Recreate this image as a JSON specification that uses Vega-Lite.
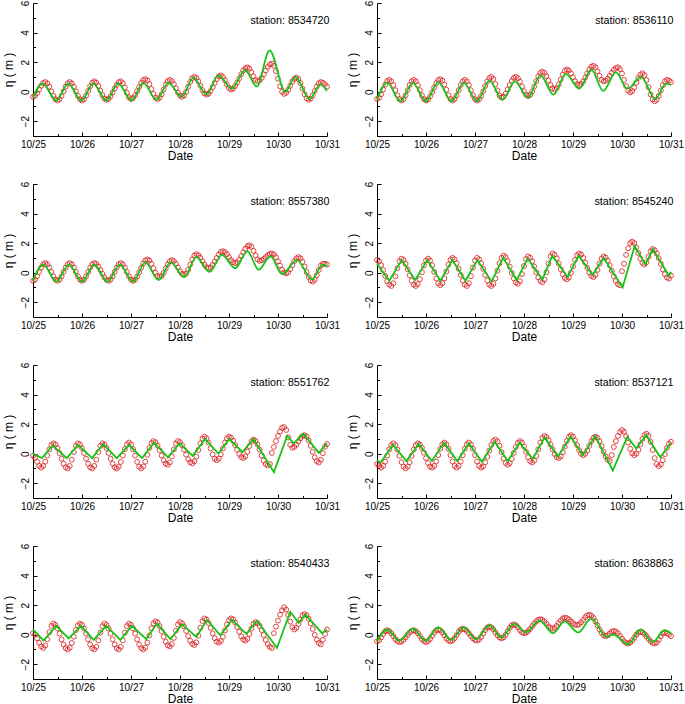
{
"$schema": "https://vega.github.io/schema/vega-lite/v6.json",
"background": "white",
"padding": {"left": 1, "top": 0, "right": 0, "bottom": 0},
"config": {
 "font": "Liberation Sans",
 "view": {"stroke": null},
 "axis": {"grid": false, "domainColor": "#000", "tickColor": "#000", "labelColor": "#000", "titleColor": "#000", "tickSize": -4, "labelFontSize": 10, "titleFontSize": 12, "titleFontWeight": "normal", "labelPadding": 7, "labelOverlap": false, "labelFlush": false, "domainWidth": 1, "tickWidth": 1},
 "axisY": {"labelAngle": -90, "titlePadding": 5},
 "axisX": {"titlePadding": 1},
 "point": {"shape": "circle", "filled": false, "color": "#dc2626", "size": 24, "strokeWidth": 1, "opacity": 0.85},
 "line": {"color": "#16c416", "strokeWidth": 1.8}
},
"datasets": {
"o8534720": [{"h":0,"v":-0.35},{"h":1,"v":-0.28},{"h":2,"v":-0.1},{"h":3,"v":0.15},{"h":4,"v":0.4},{"h":5,"v":0.58},{"h":6,"v":0.65},{"h":7,"v":0.56},{"h":8,"v":0.34},{"h":9,"v":0.02},{"h":10,"v":-0.29},{"h":11,"v":-0.51},{"h":12,"v":-0.6},{"h":13,"v":-0.51},{"h":14,"v":-0.29},{"h":15,"v":0.02},{"h":16,"v":0.34},{"h":17,"v":0.56},{"h":18,"v":0.65},{"h":19,"v":0.56},{"h":20,"v":0.34},{"h":21,"v":0.02},{"h":22,"v":-0.29},{"h":23,"v":-0.51},{"h":24,"v":-0.6},{"h":25,"v":-0.51},{"h":26,"v":-0.27},{"h":27,"v":0.05},{"h":28,"v":0.37},{"h":29,"v":0.61},{"h":30,"v":0.7},{"h":31,"v":0.61},{"h":32,"v":0.39},{"h":33,"v":0.07},{"h":34,"v":-0.24},{"h":35,"v":-0.46},{"h":36,"v":-0.55},{"h":37,"v":-0.49},{"h":38,"v":-0.31},{"h":39,"v":-0.06},{"h":40,"v":0.21},{"h":41,"v":0.46},{"h":42,"v":0.64},{"h":43,"v":0.7},{"h":44,"v":0.58},{"h":45,"v":0.28},{"h":46,"v":-0.08},{"h":47,"v":-0.38},{"h":48,"v":-0.5},{"h":49,"v":-0.43},{"h":50,"v":-0.24},{"h":51,"v":0.03},{"h":52,"v":0.32},{"h":53,"v":0.59},{"h":54,"v":0.78},{"h":55,"v":0.85},{"h":56,"v":0.76},{"h":57,"v":0.51},{"h":58,"v":0.18},{"h":59,"v":-0.16},{"h":60,"v":-0.41},{"h":61,"v":-0.5},{"h":62,"v":-0.41},{"h":63,"v":-0.18},{"h":64,"v":0.15},{"h":65,"v":0.48},{"h":66,"v":0.71},{"h":67,"v":0.8},{"h":68,"v":0.72},{"h":69,"v":0.51},{"h":70,"v":0.23},{"h":71,"v":-0.06},{"h":72,"v":-0.27},{"h":73,"v":-0.35},{"h":74,"v":-0.26},{"h":75,"v":-0.01},{"h":76,"v":0.33},{"h":77,"v":0.66},{"h":78,"v":0.91},{"h":79,"v":1.0},{"h":80,"v":0.92},{"h":81,"v":0.7},{"h":82,"v":0.4},{"h":83,"v":0.1},{"h":84,"v":-0.12},{"h":85,"v":-0.2},{"h":86,"v":-0.14},{"h":87,"v":0.05},{"h":88,"v":0.31},{"h":89,"v":0.59},{"h":90,"v":0.85},{"h":91,"v":1.04},{"h":92,"v":1.1},{"h":93,"v":1.0},{"h":94,"v":0.77},{"h":95,"v":0.48},{"h":96,"v":0.25},{"h":97,"v":0.15},{"h":98,"v":0.21},{"h":99,"v":0.38},{"h":100,"v":0.62},{"h":101,"v":0.9},{"h":102,"v":1.19},{"h":103,"v":1.43},{"h":104,"v":1.59},{"h":105,"v":1.65},{"h":106,"v":1.56},{"h":107,"v":1.32},{"h":108,"v":1.03},{"h":109,"v":0.8},{"h":110,"v":0.7},{"h":111,"v":0.76},{"h":112,"v":0.93},{"h":113,"v":1.17},{"h":114,"v":1.43},{"h":115,"v":1.67},{"h":116,"v":1.84},{"h":117,"v":1.9},{"h":118,"v":1.76},{"h":119,"v":1.39},{"h":120,"v":0.88},{"h":121,"v":0.36},{"h":122,"v":-0.01},{"h":123,"v":-0.15},{"h":124,"v":-0.07},{"h":125,"v":0.13},{"h":126,"v":0.4},{"h":127,"v":0.68},{"h":128,"v":0.87},{"h":129,"v":0.95},{"h":130,"v":0.85},{"h":131,"v":0.58},{"h":132,"v":0.2},{"h":133,"v":-0.18},{"h":134,"v":-0.45},{"h":135,"v":-0.55},{"h":136,"v":-0.47},{"h":137,"v":-0.25},{"h":138,"v":0.05},{"h":139,"v":0.35},{"h":140,"v":0.57},{"h":141,"v":0.65},{"h":142,"v":0.6},{"h":143,"v":0.5},{"h":144,"v":0.35}],
"m8534720": [{"h":0,"v":-0.4},{"h":4.6,"v":0.55},{"h":11.5,"v":-0.6},{"h":17.2,"v":0.55},{"h":23.7,"v":-0.6},{"h":29.5,"v":0.55},{"h":36,"v":-0.6},{"h":41.7,"v":0.55},{"h":48.3,"v":-0.6},{"h":54,"v":0.6},{"h":60.5,"v":-0.55},{"h":66.3,"v":0.6},{"h":72.8,"v":-0.35},{"h":78.6,"v":0.95},{"h":85,"v":-0.2},{"h":90.8,"v":1.1},{"h":97.4,"v":0.2},{"h":103.9,"v":1.45},{"h":109.6,"v":0.35},{"h":115.9,"v":2.8},{"h":123.6,"v":0.0},{"h":128.5,"v":1.0},{"h":135.5,"v":-0.5},{"h":140.7,"v":0.5},{"h":144,"v":0.05}],
"o8536110": [{"h":0,"v":-0.5},{"h":1,"v":-0.41},{"h":2,"v":-0.18},{"h":3,"v":0.15},{"h":4,"v":0.48},{"h":5,"v":0.71},{"h":6,"v":0.8},{"h":7,"v":0.7},{"h":8,"v":0.45},{"h":9,"v":0.1},{"h":10,"v":-0.25},{"h":11,"v":-0.5},{"h":12,"v":-0.6},{"h":13,"v":-0.5},{"h":14,"v":-0.25},{"h":15,"v":0.1},{"h":16,"v":0.45},{"h":17,"v":0.7},{"h":18,"v":0.8},{"h":19,"v":0.7},{"h":20,"v":0.45},{"h":21,"v":0.1},{"h":22,"v":-0.25},{"h":23,"v":-0.5},{"h":24,"v":-0.6},{"h":25,"v":-0.53},{"h":26,"v":-0.32},{"h":27,"v":-0.03},{"h":28,"v":0.28},{"h":29,"v":0.57},{"h":30,"v":0.78},{"h":31,"v":0.85},{"h":32,"v":0.75},{"h":33,"v":0.49},{"h":34,"v":0.13},{"h":35,"v":-0.24},{"h":36,"v":-0.5},{"h":37,"v":-0.6},{"h":38,"v":-0.5},{"h":39,"v":-0.25},{"h":40,"v":0.1},{"h":41,"v":0.45},{"h":42,"v":0.7},{"h":43,"v":0.8},{"h":44,"v":0.7},{"h":45,"v":0.45},{"h":46,"v":0.1},{"h":47,"v":-0.25},{"h":48,"v":-0.5},{"h":49,"v":-0.6},{"h":50,"v":-0.52},{"h":51,"v":-0.3},{"h":52,"v":0.02},{"h":53,"v":0.38},{"h":54,"v":0.7},{"h":55,"v":0.92},{"h":56,"v":1.0},{"h":57,"v":0.86},{"h":58,"v":0.51},{"h":59,"v":0.09},{"h":60,"v":-0.26},{"h":61,"v":-0.4},{"h":62,"v":-0.33},{"h":63,"v":-0.13},{"h":64,"v":0.15},{"h":65,"v":0.45},{"h":66,"v":0.73},{"h":67,"v":0.93},{"h":68,"v":1.0},{"h":69,"v":0.91},{"h":70,"v":0.68},{"h":71,"v":0.35},{"h":72,"v":0.03},{"h":73,"v":-0.21},{"h":74,"v":-0.3},{"h":75,"v":-0.22},{"h":76,"v":0.01},{"h":77,"v":0.34},{"h":78,"v":0.71},{"h":79,"v":1.04},{"h":80,"v":1.27},{"h":81,"v":1.35},{"h":82,"v":1.27},{"h":83,"v":1.05},{"h":84,"v":0.75},{"h":85,"v":0.45},{"h":86,"v":0.23},{"h":87,"v":0.15},{"h":88,"v":0.24},{"h":89,"v":0.49},{"h":90,"v":0.83},{"h":91,"v":1.16},{"h":92,"v":1.41},{"h":93,"v":1.5},{"h":94,"v":1.43},{"h":95,"v":1.24},{"h":96,"v":0.98},{"h":97,"v":0.71},{"h":98,"v":0.52},{"h":99,"v":0.45},{"h":100,"v":0.52},{"h":101,"v":0.7},{"h":102,"v":0.96},{"h":103,"v":1.24},{"h":104,"v":1.5},{"h":105,"v":1.69},{"h":106,"v":1.75},{"h":107,"v":1.65},{"h":108,"v":1.38},{"h":109,"v":1.07},{"h":110,"v":0.8},{"h":111,"v":0.7},{"h":112,"v":0.75},{"h":113,"v":0.88},{"h":114,"v":1.07},{"h":115,"v":1.28},{"h":116,"v":1.47},{"h":117,"v":1.6},{"h":118,"v":1.65},{"h":119,"v":1.53},{"h":120,"v":1.23},{"h":121,"v":0.8},{"h":122,"v":0.38},{"h":123,"v":0.07},{"h":124,"v":-0.05},{"h":125,"v":0.04},{"h":126,"v":0.28},{"h":127,"v":0.6},{"h":128,"v":0.93},{"h":129,"v":1.16},{"h":130,"v":1.25},{"h":131,"v":1.12},{"h":132,"v":0.78},{"h":133,"v":0.3},{"h":134,"v":-0.18},{"h":135,"v":-0.52},{"h":136,"v":-0.65},{"h":137,"v":-0.55},{"h":138,"v":-0.29},{"h":139,"v":0.08},{"h":140,"v":0.44},{"h":141,"v":0.7},{"h":142,"v":0.8},{"h":143,"v":0.75},{"h":144,"v":0.65}],
"m8536110": [{"h":0,"v":-0.55},{"h":5,"v":0.6},{"h":11.5,"v":-0.65},{"h":17.5,"v":0.6},{"h":24,"v":-0.65},{"h":30,"v":0.65},{"h":36.5,"v":-0.65},{"h":42.5,"v":0.6},{"h":49,"v":-0.65},{"h":55,"v":0.75},{"h":61.5,"v":-0.55},{"h":67.5,"v":0.7},{"h":74,"v":-0.4},{"h":80,"v":1.1},{"h":86.5,"v":-0.2},{"h":92.5,"v":1.2},{"h":99,"v":0.2},{"h":105,"v":1.5},{"h":110.8,"v":0.05},{"h":117,"v":1.3},{"h":122.7,"v":0.2},{"h":129.3,"v":1.0},{"h":136.3,"v":-0.5},{"h":141.5,"v":0.55},{"h":144,"v":0.45}],
"o8557380": [{"h":0,"v":-0.55},{"h":1,"v":-0.47},{"h":2,"v":-0.25},{"h":3,"v":0.05},{"h":4,"v":0.35},{"h":5,"v":0.57},{"h":6,"v":0.65},{"h":7,"v":0.57},{"h":8,"v":0.35},{"h":9,"v":0.05},{"h":10,"v":-0.25},{"h":11,"v":-0.47},{"h":12,"v":-0.55},{"h":13,"v":-0.47},{"h":14,"v":-0.25},{"h":15,"v":0.05},{"h":16,"v":0.35},{"h":17,"v":0.57},{"h":18,"v":0.65},{"h":19,"v":0.57},{"h":20,"v":0.35},{"h":21,"v":0.05},{"h":22,"v":-0.25},{"h":23,"v":-0.47},{"h":24,"v":-0.55},{"h":25,"v":-0.47},{"h":26,"v":-0.25},{"h":27,"v":0.05},{"h":28,"v":0.35},{"h":29,"v":0.57},{"h":30,"v":0.65},{"h":31,"v":0.59},{"h":32,"v":0.42},{"h":33,"v":0.18},{"h":34,"v":-0.08},{"h":35,"v":-0.32},{"h":36,"v":-0.49},{"h":37,"v":-0.55},{"h":38,"v":-0.47},{"h":39,"v":-0.25},{"h":40,"v":0.05},{"h":41,"v":0.35},{"h":42,"v":0.57},{"h":43,"v":0.65},{"h":44,"v":0.57},{"h":45,"v":0.35},{"h":46,"v":0.05},{"h":47,"v":-0.25},{"h":48,"v":-0.47},{"h":49,"v":-0.55},{"h":50,"v":-0.48},{"h":51,"v":-0.27},{"h":52,"v":0.02},{"h":53,"v":0.33},{"h":54,"v":0.62},{"h":55,"v":0.83},{"h":56,"v":0.9},{"h":57,"v":0.82},{"h":58,"v":0.6},{"h":59,"v":0.3},{"h":60,"v":0.0},{"h":61,"v":-0.22},{"h":62,"v":-0.3},{"h":63,"v":-0.22},{"h":64,"v":-0.01},{"h":65,"v":0.28},{"h":66,"v":0.56},{"h":67,"v":0.77},{"h":68,"v":0.85},{"h":69,"v":0.78},{"h":70,"v":0.6},{"h":71,"v":0.35},{"h":72,"v":0.1},{"h":73,"v":-0.08},{"h":74,"v":-0.15},{"h":75,"v":-0.05},{"h":76,"v":0.2},{"h":77,"v":0.55},{"h":78,"v":0.9},{"h":79,"v":1.15},{"h":80,"v":1.25},{"h":81,"v":1.18},{"h":82,"v":1.01},{"h":83,"v":0.78},{"h":84,"v":0.54},{"h":85,"v":0.37},{"h":86,"v":0.3},{"h":87,"v":0.36},{"h":88,"v":0.52},{"h":89,"v":0.75},{"h":90,"v":1.0},{"h":91,"v":1.23},{"h":92,"v":1.39},{"h":93,"v":1.45},{"h":94,"v":1.39},{"h":95,"v":1.25},{"h":96,"v":1.05},{"h":97,"v":0.85},{"h":98,"v":0.71},{"h":99,"v":0.65},{"h":100,"v":0.71},{"h":101,"v":0.88},{"h":102,"v":1.12},{"h":103,"v":1.38},{"h":104,"v":1.62},{"h":105,"v":1.79},{"h":106,"v":1.85},{"h":107,"v":1.75},{"h":108,"v":1.48},{"h":109,"v":1.17},{"h":110,"v":0.9},{"h":111,"v":0.8},{"h":112,"v":0.84},{"h":113,"v":0.93},{"h":114,"v":1.05},{"h":115,"v":1.18},{"h":116,"v":1.27},{"h":117,"v":1.3},{"h":118,"v":1.23},{"h":119,"v":1.04},{"h":120,"v":0.77},{"h":121,"v":0.48},{"h":122,"v":0.21},{"h":123,"v":0.02},{"h":124,"v":-0.05},{"h":125,"v":0.03},{"h":126,"v":0.23},{"h":127,"v":0.5},{"h":128,"v":0.78},{"h":129,"v":0.97},{"h":130,"v":1.05},{"h":131,"v":0.97},{"h":132,"v":0.74},{"h":133,"v":0.41},{"h":134,"v":0.04},{"h":135,"v":-0.29},{"h":136,"v":-0.52},{"h":137,"v":-0.6},{"h":138,"v":-0.48},{"h":139,"v":-0.18},{"h":140,"v":0.18},{"h":141,"v":0.48},{"h":142,"v":0.6},{"h":143,"v":0.6},{"h":144,"v":0.55}],
"m8557380": [{"h":0,"v":-0.55},{"h":5,"v":0.55},{"h":11.5,"v":-0.6},{"h":17.5,"v":0.55},{"h":24,"v":-0.6},{"h":30,"v":0.55},{"h":36.5,"v":-0.6},{"h":42.5,"v":0.55},{"h":49,"v":-0.6},{"h":55,"v":0.7},{"h":61.5,"v":-0.5},{"h":67.5,"v":0.7},{"h":74,"v":-0.3},{"h":80,"v":1.05},{"h":86.5,"v":0.05},{"h":92.5,"v":1.2},{"h":99,"v":0.3},{"h":105,"v":1.45},{"h":110.5,"v":0.2},{"h":116.3,"v":1.1},{"h":122,"v":-0.1},{"h":129.3,"v":0.85},{"h":136.6,"v":-0.45},{"h":142,"v":0.55},{"h":144,"v":0.4}],
"o8545240": [{"h":0,"v":0.85},{"h":1,"v":0.76},{"h":2,"v":0.52},{"h":3,"v":0.17},{"h":4,"v":-0.22},{"h":5,"v":-0.57},{"h":6,"v":-0.81},{"h":7,"v":-0.9},{"h":8,"v":-0.72},{"h":9,"v":-0.25},{"h":10,"v":0.3},{"h":11,"v":0.77},{"h":12,"v":0.95},{"h":13,"v":0.86},{"h":14,"v":0.6},{"h":15,"v":0.23},{"h":16,"v":-0.18},{"h":17,"v":-0.55},{"h":18,"v":-0.81},{"h":19,"v":-0.9},{"h":20,"v":-0.77},{"h":21,"v":-0.44},{"h":22,"v":0.03},{"h":23,"v":0.49},{"h":24,"v":0.82},{"h":25,"v":0.95},{"h":26,"v":0.82},{"h":27,"v":0.5},{"h":28,"v":0.05},{"h":29,"v":-0.4},{"h":30,"v":-0.72},{"h":31,"v":-0.85},{"h":32,"v":-0.72},{"h":33,"v":-0.39},{"h":34,"v":0.08},{"h":35,"v":0.54},{"h":36,"v":0.87},{"h":37,"v":1.0},{"h":38,"v":0.9},{"h":39,"v":0.64},{"h":40,"v":0.26},{"h":41,"v":-0.16},{"h":42,"v":-0.54},{"h":43,"v":-0.81},{"h":44,"v":-0.9},{"h":45,"v":-0.71},{"h":46,"v":-0.24},{"h":47,"v":0.34},{"h":48,"v":0.81},{"h":49,"v":1.0},{"h":50,"v":0.9},{"h":51,"v":0.64},{"h":52,"v":0.26},{"h":53,"v":-0.16},{"h":54,"v":-0.54},{"h":55,"v":-0.81},{"h":56,"v":-0.9},{"h":57,"v":-0.76},{"h":58,"v":-0.39},{"h":59,"v":0.13},{"h":60,"v":0.64},{"h":61,"v":1.01},{"h":62,"v":1.15},{"h":63,"v":1.05},{"h":64,"v":0.79},{"h":65,"v":0.41},{"h":66,"v":-0.01},{"h":67,"v":-0.39},{"h":68,"v":-0.66},{"h":69,"v":-0.75},{"h":70,"v":-0.57},{"h":71,"v":-0.1},{"h":72,"v":0.45},{"h":73,"v":0.92},{"h":74,"v":1.1},{"h":75,"v":1.01},{"h":76,"v":0.77},{"h":77,"v":0.42},{"h":78,"v":0.03},{"h":79,"v":-0.32},{"h":80,"v":-0.56},{"h":81,"v":-0.65},{"h":82,"v":-0.46},{"h":83,"v":0.03},{"h":84,"v":0.62},{"h":85,"v":1.11},{"h":86,"v":1.3},{"h":87,"v":1.21},{"h":88,"v":0.97},{"h":89,"v":0.62},{"h":90,"v":0.23},{"h":91,"v":-0.12},{"h":92,"v":-0.36},{"h":93,"v":-0.45},{"h":94,"v":-0.33},{"h":95,"v":-0.01},{"h":96,"v":0.43},{"h":97,"v":0.86},{"h":98,"v":1.18},{"h":99,"v":1.3},{"h":100,"v":1.22},{"h":101,"v":1.0},{"h":102,"v":0.68},{"h":103,"v":0.32},{"h":104,"v":0.0},{"h":105,"v":-0.22},{"h":106,"v":-0.3},{"h":107,"v":-0.16},{"h":108,"v":0.19},{"h":109,"v":0.61},{"h":110,"v":0.96},{"h":111,"v":1.1},{"h":112,"v":1.02},{"h":113,"v":0.81},{"h":114,"v":0.5},{"h":115,"v":0.13},{"h":116,"v":-0.25},{"h":117,"v":-0.56},{"h":118,"v":-0.77},{"h":119,"v":-0.85},{"h":120,"v":0.1},{"h":121,"v":0.6},{"h":122,"v":1.2},{"h":123,"v":1.65},{"h":124,"v":2.0},{"h":125,"v":2.1},{"h":126,"v":2.0},{"h":127,"v":1.71},{"h":128,"v":1.33},{"h":129,"v":0.94},{"h":130,"v":0.66},{"h":131,"v":0.55},{"h":132,"v":0.7},{"h":133,"v":1.08},{"h":134,"v":1.45},{"h":135,"v":1.6},{"h":136,"v":1.52},{"h":137,"v":1.3},{"h":138,"v":0.98},{"h":139,"v":0.6},{"h":140,"v":0.22},{"h":141,"v":-0.1},{"h":142,"v":-0.32},{"h":143,"v":-0.4},{"h":144,"v":-0.2}],
"m8545240": [{"h":0,"v":0.6},{"h":6,"v":-0.55},{"h":12.1,"v":0.85},{"h":18.7,"v":-0.5},{"h":24.6,"v":0.85},{"h":31.1,"v":-0.55},{"h":36.9,"v":0.85},{"h":43.3,"v":-0.55},{"h":49.2,"v":0.85},{"h":56.1,"v":-0.6},{"h":61.8,"v":1.0},{"h":68.4,"v":-0.5},{"h":73.8,"v":0.95},{"h":81,"v":-0.45},{"h":85.9,"v":1.15},{"h":93.4,"v":-0.3},{"h":98.7,"v":1.15},{"h":105.6,"v":-0.15},{"h":111,"v":1.0},{"h":120.3,"v":-1.0},{"h":126.2,"v":1.8},{"h":131.5,"v":0.55},{"h":135.1,"v":1.6},{"h":143,"v":-0.2},{"h":144,"v":0.05}],
"o8551762": [{"h":0,"v":-0.15},{"h":1,"v":-0.27},{"h":2,"v":-0.55},{"h":3,"v":-0.83},{"h":4,"v":-0.95},{"h":5,"v":-0.83},{"h":6,"v":-0.54},{"h":7,"v":-0.13},{"h":8,"v":0.29},{"h":9,"v":0.58},{"h":10,"v":0.7},{"h":11,"v":0.62},{"h":12,"v":0.38},{"h":13,"v":0.04},{"h":14,"v":-0.34},{"h":15,"v":-0.68},{"h":16,"v":-0.92},{"h":17,"v":-1.0},{"h":18,"v":-0.83},{"h":19,"v":-0.41},{"h":20,"v":0.11},{"h":21,"v":0.53},{"h":22,"v":0.7},{"h":23,"v":0.62},{"h":24,"v":0.38},{"h":25,"v":0.04},{"h":26,"v":-0.34},{"h":27,"v":-0.68},{"h":28,"v":-0.92},{"h":29,"v":-1.0},{"h":30,"v":-0.83},{"h":31,"v":-0.41},{"h":32,"v":0.11},{"h":33,"v":0.53},{"h":34,"v":0.7},{"h":35,"v":0.62},{"h":36,"v":0.38},{"h":37,"v":0.04},{"h":38,"v":-0.34},{"h":39,"v":-0.68},{"h":40,"v":-0.92},{"h":41,"v":-1.0},{"h":42,"v":-0.88},{"h":43,"v":-0.56},{"h":44,"v":-0.13},{"h":45,"v":0.31},{"h":46,"v":0.63},{"h":47,"v":0.75},{"h":48,"v":0.63},{"h":49,"v":0.31},{"h":50,"v":-0.13},{"h":51,"v":-0.56},{"h":52,"v":-0.88},{"h":53,"v":-1.0},{"h":54,"v":-0.87},{"h":55,"v":-0.54},{"h":56,"v":-0.08},{"h":57,"v":0.39},{"h":58,"v":0.72},{"h":59,"v":0.85},{"h":60,"v":0.77},{"h":61,"v":0.55},{"h":62,"v":0.23},{"h":63,"v":-0.13},{"h":64,"v":-0.45},{"h":65,"v":-0.67},{"h":66,"v":-0.75},{"h":67,"v":-0.59},{"h":68,"v":-0.19},{"h":69,"v":0.29},{"h":70,"v":0.69},{"h":71,"v":0.85},{"h":72,"v":0.78},{"h":73,"v":0.57},{"h":74,"v":0.27},{"h":75,"v":-0.07},{"h":76,"v":-0.37},{"h":77,"v":-0.58},{"h":78,"v":-0.65},{"h":79,"v":-0.52},{"h":80,"v":-0.2},{"h":81,"v":0.25},{"h":82,"v":0.7},{"h":83,"v":1.02},{"h":84,"v":1.15},{"h":85,"v":1.04},{"h":86,"v":0.75},{"h":87,"v":0.35},{"h":88,"v":-0.05},{"h":89,"v":-0.34},{"h":90,"v":-0.45},{"h":91,"v":-0.34},{"h":92,"v":-0.05},{"h":93,"v":0.35},{"h":94,"v":0.75},{"h":95,"v":1.04},{"h":96,"v":1.15},{"h":97,"v":1.08},{"h":98,"v":0.87},{"h":99,"v":0.58},{"h":100,"v":0.27},{"h":101,"v":-0.02},{"h":102,"v":-0.23},{"h":103,"v":-0.3},{"h":104,"v":-0.18},{"h":105,"v":0.14},{"h":106,"v":0.51},{"h":107,"v":0.83},{"h":108,"v":0.95},{"h":109,"v":0.86},{"h":110,"v":0.62},{"h":111,"v":0.27},{"h":112,"v":-0.12},{"h":113,"v":-0.47},{"h":114,"v":-0.71},{"h":115,"v":-0.8},{"h":116,"v":-0.7},{"h":117,"v":0.05},{"h":118,"v":0.45},{"h":119,"v":0.85},{"h":120,"v":1.2},{"h":121,"v":1.5},{"h":122,"v":1.75},{"h":123,"v":1.8},{"h":124,"v":1.6},{"h":125,"v":1.1},{"h":126,"v":0.6},{"h":127,"v":0.4},{"h":128,"v":0.46},{"h":129,"v":0.61},{"h":130,"v":0.83},{"h":131,"v":1.04},{"h":132,"v":1.19},{"h":133,"v":1.25},{"h":134,"v":1.16},{"h":135,"v":0.9},{"h":136,"v":0.53},{"h":137,"v":0.12},{"h":138,"v":-0.25},{"h":139,"v":-0.51},{"h":140,"v":-0.6},{"h":141,"v":-0.42},{"h":142,"v":0.03},{"h":143,"v":0.47},{"h":144,"v":0.65}],
"m8551762": [{"h":0,"v":0.0},{"h":4.4,"v":-0.3},{"h":9.6,"v":0.55},{"h":16.6,"v":-0.3},{"h":22,"v":0.6},{"h":29,"v":-0.3},{"h":34.4,"v":0.65},{"h":41,"v":-0.3},{"h":47.1,"v":0.6},{"h":53.4,"v":-0.3},{"h":59.3,"v":0.75},{"h":66.1,"v":-0.25},{"h":71.8,"v":0.7},{"h":78.2,"v":-0.15},{"h":84.3,"v":1.0},{"h":90.8,"v":0.0},{"h":96.1,"v":1.0},{"h":102.6,"v":0.1},{"h":108,"v":1.0},{"h":118,"v":-1.25},{"h":124.5,"v":1.2},{"h":127.8,"v":0.7},{"h":132.4,"v":1.35},{"h":140,"v":0.05},{"h":144,"v":0.7}],
"o8537121": [{"h":0,"v":-0.7},{"h":1,"v":-0.83},{"h":2,"v":-0.95},{"h":3,"v":-0.83},{"h":4,"v":-0.54},{"h":5,"v":-0.13},{"h":6,"v":0.29},{"h":7,"v":0.58},{"h":8,"v":0.7},{"h":9,"v":0.58},{"h":10,"v":0.28},{"h":11,"v":-0.15},{"h":12,"v":-0.58},{"h":13,"v":-0.88},{"h":14,"v":-1.0},{"h":15,"v":-0.88},{"h":16,"v":-0.58},{"h":17,"v":-0.15},{"h":18,"v":0.28},{"h":19,"v":0.58},{"h":20,"v":0.7},{"h":21,"v":0.62},{"h":22,"v":0.39},{"h":23,"v":0.06},{"h":24,"v":-0.31},{"h":25,"v":-0.64},{"h":26,"v":-0.87},{"h":27,"v":-0.95},{"h":28,"v":-0.83},{"h":29,"v":-0.53},{"h":30,"v":-0.1},{"h":31,"v":0.33},{"h":32,"v":0.63},{"h":33,"v":0.75},{"h":34,"v":0.63},{"h":35,"v":0.33},{"h":36,"v":-0.1},{"h":37,"v":-0.53},{"h":38,"v":-0.83},{"h":39,"v":-0.95},{"h":40,"v":-0.83},{"h":41,"v":-0.53},{"h":42,"v":-0.1},{"h":43,"v":0.33},{"h":44,"v":0.63},{"h":45,"v":0.75},{"h":46,"v":0.63},{"h":47,"v":0.33},{"h":48,"v":-0.1},{"h":49,"v":-0.53},{"h":50,"v":-0.83},{"h":51,"v":-0.95},{"h":52,"v":-0.86},{"h":53,"v":-0.59},{"h":54,"v":-0.21},{"h":55,"v":0.21},{"h":56,"v":0.59},{"h":57,"v":0.86},{"h":58,"v":0.95},{"h":59,"v":0.83},{"h":60,"v":0.53},{"h":61,"v":0.1},{"h":62,"v":-0.33},{"h":63,"v":-0.63},{"h":64,"v":-0.75},{"h":65,"v":-0.64},{"h":66,"v":-0.35},{"h":67,"v":0.05},{"h":68,"v":0.45},{"h":69,"v":0.74},{"h":70,"v":0.85},{"h":71,"v":0.75},{"h":72,"v":0.49},{"h":73,"v":0.13},{"h":74,"v":-0.24},{"h":75,"v":-0.5},{"h":76,"v":-0.6},{"h":77,"v":-0.47},{"h":78,"v":-0.15},{"h":79,"v":0.3},{"h":80,"v":0.75},{"h":81,"v":1.07},{"h":82,"v":1.2},{"h":83,"v":1.13},{"h":84,"v":0.92},{"h":85,"v":0.62},{"h":86,"v":0.29},{"h":87,"v":-0.02},{"h":88,"v":-0.23},{"h":89,"v":-0.3},{"h":90,"v":-0.19},{"h":91,"v":0.09},{"h":92,"v":0.48},{"h":93,"v":0.86},{"h":94,"v":1.14},{"h":95,"v":1.25},{"h":96,"v":1.16},{"h":97,"v":0.91},{"h":98,"v":0.58},{"h":99,"v":0.24},{"h":100,"v":-0.01},{"h":101,"v":-0.1},{"h":102,"v":-0.01},{"h":103,"v":0.21},{"h":104,"v":0.53},{"h":105,"v":0.84},{"h":106,"v":1.06},{"h":107,"v":1.15},{"h":108,"v":1.07},{"h":109,"v":0.84},{"h":110,"v":0.51},{"h":111,"v":0.14},{"h":112,"v":-0.19},{"h":113,"v":-0.42},{"h":114,"v":-0.5},{"h":115,"v":-0.1},{"h":116,"v":0.45},{"h":117,"v":0.85},{"h":118,"v":1.2},{"h":119,"v":1.45},{"h":120,"v":1.6},{"h":121,"v":1.48},{"h":122,"v":1.18},{"h":123,"v":0.75},{"h":124,"v":0.33},{"h":125,"v":0.02},{"h":126,"v":-0.1},{"h":127,"v":0.0},{"h":128,"v":0.26},{"h":129,"v":0.63},{"h":130,"v":0.99},{"h":131,"v":1.25},{"h":132,"v":1.35},{"h":133,"v":1.2},{"h":134,"v":0.8},{"h":135,"v":0.25},{"h":136,"v":-0.3},{"h":137,"v":-0.7},{"h":138,"v":-0.85},{"h":139,"v":-0.73},{"h":140,"v":-0.44},{"h":141,"v":-0.03},{"h":142,"v":0.39},{"h":143,"v":0.68},{"h":144,"v":0.8}],
"m8537121": [{"h":0,"v":-0.45},{"h":1.8,"v":-0.6},{"h":7.8,"v":0.6},{"h":14.4,"v":-0.5},{"h":20.4,"v":0.65},{"h":26.9,"v":-0.5},{"h":32.8,"v":0.75},{"h":39.3,"v":-0.5},{"h":45,"v":0.7},{"h":51.4,"v":-0.55},{"h":57.6,"v":0.8},{"h":64.1,"v":-0.5},{"h":69.8,"v":0.75},{"h":76.3,"v":-0.35},{"h":82.1,"v":1.1},{"h":88.6,"v":-0.2},{"h":94.8,"v":1.15},{"h":100.8,"v":-0.1},{"h":106.9,"v":1.2},{"h":115.5,"v":-1.15},{"h":122.6,"v":1.15},{"h":127,"v":0.35},{"h":131.8,"v":1.25},{"h":138.8,"v":-0.25},{"h":144,"v":0.75}],
"o8540433": [{"h":0,"v":0.1},{"h":1,"v":0.0},{"h":2,"v":-0.25},{"h":3,"v":-0.55},{"h":4,"v":-0.8},{"h":5,"v":-0.9},{"h":6,"v":-0.74},{"h":7,"v":-0.32},{"h":8,"v":0.17},{"h":9,"v":0.59},{"h":10,"v":0.75},{"h":11,"v":0.66},{"h":12,"v":0.42},{"h":13,"v":0.07},{"h":14,"v":-0.32},{"h":15,"v":-0.67},{"h":16,"v":-0.91},{"h":17,"v":-1.0},{"h":18,"v":-0.88},{"h":19,"v":-0.56},{"h":20,"v":-0.13},{"h":21,"v":0.31},{"h":22,"v":0.63},{"h":23,"v":0.75},{"h":24,"v":0.66},{"h":25,"v":0.42},{"h":26,"v":0.07},{"h":27,"v":-0.32},{"h":28,"v":-0.67},{"h":29,"v":-0.91},{"h":30,"v":-1.0},{"h":31,"v":-0.83},{"h":32,"v":-0.39},{"h":33,"v":0.14},{"h":34,"v":0.58},{"h":35,"v":0.75},{"h":36,"v":0.66},{"h":37,"v":0.42},{"h":38,"v":0.07},{"h":39,"v":-0.32},{"h":40,"v":-0.67},{"h":41,"v":-0.91},{"h":42,"v":-1.0},{"h":43,"v":-0.83},{"h":44,"v":-0.39},{"h":45,"v":0.14},{"h":46,"v":0.58},{"h":47,"v":0.75},{"h":48,"v":0.66},{"h":49,"v":0.42},{"h":50,"v":0.07},{"h":51,"v":-0.32},{"h":52,"v":-0.67},{"h":53,"v":-0.91},{"h":54,"v":-1.0},{"h":55,"v":-0.87},{"h":56,"v":-0.53},{"h":57,"v":-0.05},{"h":58,"v":0.43},{"h":59,"v":0.77},{"h":60,"v":0.9},{"h":61,"v":0.82},{"h":62,"v":0.58},{"h":63,"v":0.24},{"h":64,"v":-0.14},{"h":65,"v":-0.48},{"h":66,"v":-0.72},{"h":67,"v":-0.8},{"h":68,"v":-0.64},{"h":69,"v":-0.22},{"h":70,"v":0.27},{"h":71,"v":0.69},{"h":72,"v":0.85},{"h":73,"v":0.77},{"h":74,"v":0.56},{"h":75,"v":0.25},{"h":76,"v":-0.1},{"h":77,"v":-0.41},{"h":78,"v":-0.62},{"h":79,"v":-0.7},{"h":80,"v":-0.52},{"h":81,"v":-0.07},{"h":82,"v":0.47},{"h":83,"v":0.92},{"h":84,"v":1.1},{"h":85,"v":1.02},{"h":86,"v":0.79},{"h":87,"v":0.46},{"h":88,"v":0.09},{"h":89,"v":-0.24},{"h":90,"v":-0.47},{"h":91,"v":-0.55},{"h":92,"v":-0.43},{"h":93,"v":-0.14},{"h":94,"v":0.28},{"h":95,"v":0.69},{"h":96,"v":0.98},{"h":97,"v":1.1},{"h":98,"v":1.03},{"h":99,"v":0.82},{"h":100,"v":0.52},{"h":101,"v":0.19},{"h":102,"v":-0.12},{"h":103,"v":-0.33},{"h":104,"v":-0.4},{"h":105,"v":-0.28},{"h":106,"v":0.04},{"h":107,"v":0.41},{"h":108,"v":0.73},{"h":109,"v":0.85},{"h":110,"v":0.78},{"h":111,"v":0.59},{"h":112,"v":0.31},{"h":113,"v":-0.03},{"h":114,"v":-0.36},{"h":115,"v":-0.64},{"h":116,"v":-0.83},{"h":117,"v":-0.9},{"h":118,"v":0.1},{"h":119,"v":0.55},{"h":120,"v":0.95},{"h":121,"v":1.35},{"h":122,"v":1.65},{"h":123,"v":1.85},{"h":124,"v":1.7},{"h":125,"v":1.33},{"h":126,"v":0.88},{"h":127,"v":0.5},{"h":128,"v":0.35},{"h":129,"v":0.46},{"h":130,"v":0.72},{"h":131,"v":1.03},{"h":132,"v":1.3},{"h":133,"v":1.4},{"h":134,"v":1.32},{"h":135,"v":1.09},{"h":136,"v":0.76},{"h":137,"v":0.38},{"h":138,"v":-0.01},{"h":139,"v":-0.34},{"h":140,"v":-0.57},{"h":141,"v":-0.65},{"h":142,"v":-0.35},{"h":143,"v":0.05},{"h":144,"v":0.35}],
"m8540433": [{"h":0,"v":0.35},{"h":5.2,"v":-0.4},{"h":11.4,"v":0.6},{"h":17.5,"v":-0.25},{"h":23.5,"v":0.6},{"h":29.7,"v":-0.35},{"h":35.9,"v":0.6},{"h":42.8,"v":-0.35},{"h":48.5,"v":0.6},{"h":55.5,"v":-0.3},{"h":60.7,"v":0.75},{"h":67.3,"v":-0.3},{"h":73,"v":0.7},{"h":80,"v":-0.15},{"h":85.2,"v":1.0},{"h":91.8,"v":-0.05},{"h":97.5,"v":1.0},{"h":104.5,"v":0.05},{"h":109.7,"v":0.95},{"h":119.5,"v":-0.9},{"h":126,"v":1.55},{"h":130.1,"v":0.8},{"h":133.4,"v":1.35},{"h":141.6,"v":0.1},{"h":144,"v":0.35}],
"o8638863": [{"h":0,"v":-0.45},{"h":1,"v":-0.38},{"h":2,"v":-0.19},{"h":3,"v":0.04},{"h":4,"v":0.23},{"h":5,"v":0.3},{"h":6,"v":0.24},{"h":7,"v":0.1},{"h":8,"v":-0.1},{"h":9,"v":-0.3},{"h":10,"v":-0.44},{"h":11,"v":-0.5},{"h":12,"v":-0.46},{"h":13,"v":-0.35},{"h":14,"v":-0.19},{"h":15,"v":-0.01},{"h":16,"v":0.15},{"h":17,"v":0.26},{"h":18,"v":0.3},{"h":19,"v":0.24},{"h":20,"v":0.1},{"h":21,"v":-0.1},{"h":22,"v":-0.3},{"h":23,"v":-0.44},{"h":24,"v":-0.5},{"h":25,"v":-0.44},{"h":26,"v":-0.29},{"h":27,"v":-0.08},{"h":28,"v":0.14},{"h":29,"v":0.29},{"h":30,"v":0.35},{"h":31,"v":0.29},{"h":32,"v":0.15},{"h":33,"v":-0.05},{"h":34,"v":-0.25},{"h":35,"v":-0.39},{"h":36,"v":-0.45},{"h":37,"v":-0.39},{"h":38,"v":-0.24},{"h":39,"v":-0.03},{"h":40,"v":0.19},{"h":41,"v":0.34},{"h":42,"v":0.4},{"h":43,"v":0.36},{"h":44,"v":0.25},{"h":45,"v":0.09},{"h":46,"v":-0.09},{"h":47,"v":-0.25},{"h":48,"v":-0.36},{"h":49,"v":-0.4},{"h":50,"v":-0.33},{"h":51,"v":-0.16},{"h":52,"v":0.08},{"h":53,"v":0.31},{"h":54,"v":0.48},{"h":55,"v":0.55},{"h":56,"v":0.49},{"h":57,"v":0.35},{"h":58,"v":0.15},{"h":59,"v":-0.05},{"h":60,"v":-0.19},{"h":61,"v":-0.25},{"h":62,"v":-0.18},{"h":63,"v":-0.01},{"h":64,"v":0.23},{"h":65,"v":0.46},{"h":66,"v":0.63},{"h":67,"v":0.7},{"h":68,"v":0.64},{"h":69,"v":0.49},{"h":70,"v":0.31},{"h":71,"v":0.16},{"h":72,"v":0.1},{"h":73,"v":0.14},{"h":74,"v":0.24},{"h":75,"v":0.39},{"h":76,"v":0.58},{"h":77,"v":0.76},{"h":78,"v":0.91},{"h":79,"v":1.01},{"h":80,"v":1.05},{"h":81,"v":1.0},{"h":82,"v":0.89},{"h":83,"v":0.73},{"h":84,"v":0.56},{"h":85,"v":0.45},{"h":86,"v":0.4},{"h":87,"v":0.45},{"h":88,"v":0.59},{"h":89,"v":0.78},{"h":90,"v":0.96},{"h":91,"v":1.1},{"h":92,"v":1.15},{"h":93,"v":1.12},{"h":94,"v":1.03},{"h":95,"v":0.9},{"h":96,"v":0.78},{"h":97,"v":0.68},{"h":98,"v":0.65},{"h":99,"v":0.7},{"h":100,"v":0.83},{"h":101,"v":1.0},{"h":102,"v":1.18},{"h":103,"v":1.3},{"h":104,"v":1.35},{"h":105,"v":1.29},{"h":106,"v":1.13},{"h":107,"v":0.9},{"h":108,"v":0.63},{"h":109,"v":0.35},{"h":110,"v":0.12},{"h":111,"v":-0.04},{"h":112,"v":-0.1},{"h":113,"v":-0.05},{"h":114,"v":0.08},{"h":115,"v":0.2},{"h":116,"v":0.25},{"h":117,"v":0.21},{"h":118,"v":0.09},{"h":119,"v":-0.08},{"h":120,"v":-0.27},{"h":121,"v":-0.44},{"h":122,"v":-0.56},{"h":123,"v":-0.6},{"h":124,"v":-0.54},{"h":125,"v":-0.4},{"h":126,"v":-0.2},{"h":127,"v":0.0},{"h":128,"v":0.14},{"h":129,"v":0.2},{"h":130,"v":0.16},{"h":131,"v":0.05},{"h":132,"v":-0.11},{"h":133,"v":-0.29},{"h":134,"v":-0.45},{"h":135,"v":-0.56},{"h":136,"v":-0.6},{"h":137,"v":-0.53},{"h":138,"v":-0.34},{"h":139,"v":-0.11},{"h":140,"v":0.08},{"h":141,"v":0.15},{"h":142,"v":0.1},{"h":143,"v":0.0},{"h":144,"v":-0.1}],
"m8638863": [{"h":0,"v":-0.45},{"h":4.9,"v":0.35},{"h":11,"v":-0.4},{"h":17.5,"v":0.4},{"h":23.7,"v":-0.4},{"h":30.1,"v":0.5},{"h":36.3,"v":-0.35},{"h":42.4,"v":0.5},{"h":48.6,"v":-0.3},{"h":55.1,"v":0.65},{"h":60.9,"v":-0.2},{"h":67.4,"v":0.75},{"h":72.8,"v":0.15},{"h":79.7,"v":0.95},{"h":86.2,"v":0.1},{"h":91.9,"v":0.9},{"h":98.5,"v":0.15},{"h":105,"v":1.1},{"h":112.4,"v":-0.15},{"h":115.7,"v":0.0},{"h":123,"v":-0.65},{"h":129.2,"v":0.35},{"h":135,"v":-0.5},{"h":140.8,"v":0.3},{"h":144,"v":0.1}]
},
"columns": 2,
"spacing": {"row": 48, "column": 50},
"bounds": "flush",
"concat": [
  {"width": 294, "height": 133, "title": {"text": "station: 8534720", "anchor": "end", "orient": "top", "offset": -26, "dx": -10, "fontSize": 10.7, "fontWeight": "normal", "color": "#000"},
   "layer": [
    {"data": {"name": "o8534720"}, "mark": {"type": "point"},
     "encoding": {"x": {"field": "h", "type": "quantitative", "scale": {"domain": [0, 144], "nice": false}, "axis": {"values": [0,24,48,72,96,120,144], "labelExpr": "'10/' + (25 + datum.value/24)", "title": "Date"}},
                  "y": {"field": "v", "type": "quantitative", "scale": {"domain": [-3, 6], "nice": false}, "axis": {"values": [-2,0,2,4,6], "title": "η ( m )"}}}},
    {"data": {"name": "m8534720"}, "mark": {"type": "line", "interpolate": "monotone"},
     "encoding": {"x": {"field": "h", "type": "quantitative", "scale": {"domain": [0, 144], "nice": false}, "axis": {"values": [12,36,60,84,108,132], "labels": false, "domain": false, "title": null, "tickSize": -2.5, "orient": "bottom"}},
                  "y": {"field": "v", "type": "quantitative", "scale": {"domain": [-3, 6], "nice": false}, "axis": {"values": [-1,1,3,5], "labels": false, "domain": false, "title": null, "tickSize": -2.5, "orient": "left"}}}}
   ],
   "resolve": {"axis": {"x": "independent", "y": "independent"}}},
  {"width": 294, "height": 133, "title": {"text": "station: 8536110", "anchor": "end", "orient": "top", "offset": -26, "dx": -10, "fontSize": 10.7, "fontWeight": "normal", "color": "#000"},
   "layer": [
    {"data": {"name": "o8536110"}, "mark": {"type": "point"},
     "encoding": {"x": {"field": "h", "type": "quantitative", "scale": {"domain": [0, 144], "nice": false}, "axis": {"values": [0,24,48,72,96,120,144], "labelExpr": "'10/' + (25 + datum.value/24)", "title": "Date"}},
                  "y": {"field": "v", "type": "quantitative", "scale": {"domain": [-3, 6], "nice": false}, "axis": {"values": [-2,0,2,4,6], "title": "η ( m )"}}}},
    {"data": {"name": "m8536110"}, "mark": {"type": "line", "interpolate": "monotone"},
     "encoding": {"x": {"field": "h", "type": "quantitative", "scale": {"domain": [0, 144], "nice": false}, "axis": {"values": [12,36,60,84,108,132], "labels": false, "domain": false, "title": null, "tickSize": -2.5, "orient": "bottom"}},
                  "y": {"field": "v", "type": "quantitative", "scale": {"domain": [-3, 6], "nice": false}, "axis": {"values": [-1,1,3,5], "labels": false, "domain": false, "title": null, "tickSize": -2.5, "orient": "left"}}}}
   ],
   "resolve": {"axis": {"x": "independent", "y": "independent"}}},
  {"width": 294, "height": 133, "title": {"text": "station: 8557380", "anchor": "end", "orient": "top", "offset": -26, "dx": -10, "fontSize": 10.7, "fontWeight": "normal", "color": "#000"},
   "layer": [
    {"data": {"name": "o8557380"}, "mark": {"type": "point"},
     "encoding": {"x": {"field": "h", "type": "quantitative", "scale": {"domain": [0, 144], "nice": false}, "axis": {"values": [0,24,48,72,96,120,144], "labelExpr": "'10/' + (25 + datum.value/24)", "title": "Date"}},
                  "y": {"field": "v", "type": "quantitative", "scale": {"domain": [-3, 6], "nice": false}, "axis": {"values": [-2,0,2,4,6], "title": "η ( m )"}}}},
    {"data": {"name": "m8557380"}, "mark": {"type": "line", "interpolate": "monotone"},
     "encoding": {"x": {"field": "h", "type": "quantitative", "scale": {"domain": [0, 144], "nice": false}, "axis": {"values": [12,36,60,84,108,132], "labels": false, "domain": false, "title": null, "tickSize": -2.5, "orient": "bottom"}},
                  "y": {"field": "v", "type": "quantitative", "scale": {"domain": [-3, 6], "nice": false}, "axis": {"values": [-1,1,3,5], "labels": false, "domain": false, "title": null, "tickSize": -2.5, "orient": "left"}}}}
   ],
   "resolve": {"axis": {"x": "independent", "y": "independent"}}},
  {"width": 294, "height": 133, "title": {"text": "station: 8545240", "anchor": "end", "orient": "top", "offset": -26, "dx": -10, "fontSize": 10.7, "fontWeight": "normal", "color": "#000"},
   "layer": [
    {"data": {"name": "o8545240"}, "mark": {"type": "point"},
     "encoding": {"x": {"field": "h", "type": "quantitative", "scale": {"domain": [0, 144], "nice": false}, "axis": {"values": [0,24,48,72,96,120,144], "labelExpr": "'10/' + (25 + datum.value/24)", "title": "Date"}},
                  "y": {"field": "v", "type": "quantitative", "scale": {"domain": [-3, 6], "nice": false}, "axis": {"values": [-2,0,2,4,6], "title": "η ( m )"}}}},
    {"data": {"name": "m8545240"}, "mark": {"type": "line"},
     "encoding": {"x": {"field": "h", "type": "quantitative", "scale": {"domain": [0, 144], "nice": false}, "axis": {"values": [12,36,60,84,108,132], "labels": false, "domain": false, "title": null, "tickSize": -2.5, "orient": "bottom"}},
                  "y": {"field": "v", "type": "quantitative", "scale": {"domain": [-3, 6], "nice": false}, "axis": {"values": [-1,1,3,5], "labels": false, "domain": false, "title": null, "tickSize": -2.5, "orient": "left"}}}}
   ],
   "resolve": {"axis": {"x": "independent", "y": "independent"}}},
  {"width": 294, "height": 133, "title": {"text": "station: 8551762", "anchor": "end", "orient": "top", "offset": -26, "dx": -10, "fontSize": 10.7, "fontWeight": "normal", "color": "#000"},
   "layer": [
    {"data": {"name": "o8551762"}, "mark": {"type": "point"},
     "encoding": {"x": {"field": "h", "type": "quantitative", "scale": {"domain": [0, 144], "nice": false}, "axis": {"values": [0,24,48,72,96,120,144], "labelExpr": "'10/' + (25 + datum.value/24)", "title": "Date"}},
                  "y": {"field": "v", "type": "quantitative", "scale": {"domain": [-3, 6], "nice": false}, "axis": {"values": [-2,0,2,4,6], "title": "η ( m )"}}}},
    {"data": {"name": "m8551762"}, "mark": {"type": "line"},
     "encoding": {"x": {"field": "h", "type": "quantitative", "scale": {"domain": [0, 144], "nice": false}, "axis": {"values": [12,36,60,84,108,132], "labels": false, "domain": false, "title": null, "tickSize": -2.5, "orient": "bottom"}},
                  "y": {"field": "v", "type": "quantitative", "scale": {"domain": [-3, 6], "nice": false}, "axis": {"values": [-1,1,3,5], "labels": false, "domain": false, "title": null, "tickSize": -2.5, "orient": "left"}}}}
   ],
   "resolve": {"axis": {"x": "independent", "y": "independent"}}},
  {"width": 294, "height": 133, "title": {"text": "station: 8537121", "anchor": "end", "orient": "top", "offset": -26, "dx": -10, "fontSize": 10.7, "fontWeight": "normal", "color": "#000"},
   "layer": [
    {"data": {"name": "o8537121"}, "mark": {"type": "point"},
     "encoding": {"x": {"field": "h", "type": "quantitative", "scale": {"domain": [0, 144], "nice": false}, "axis": {"values": [0,24,48,72,96,120,144], "labelExpr": "'10/' + (25 + datum.value/24)", "title": "Date"}},
                  "y": {"field": "v", "type": "quantitative", "scale": {"domain": [-3, 6], "nice": false}, "axis": {"values": [-2,0,2,4,6], "title": "η ( m )"}}}},
    {"data": {"name": "m8537121"}, "mark": {"type": "line"},
     "encoding": {"x": {"field": "h", "type": "quantitative", "scale": {"domain": [0, 144], "nice": false}, "axis": {"values": [12,36,60,84,108,132], "labels": false, "domain": false, "title": null, "tickSize": -2.5, "orient": "bottom"}},
                  "y": {"field": "v", "type": "quantitative", "scale": {"domain": [-3, 6], "nice": false}, "axis": {"values": [-1,1,3,5], "labels": false, "domain": false, "title": null, "tickSize": -2.5, "orient": "left"}}}}
   ],
   "resolve": {"axis": {"x": "independent", "y": "independent"}}},
  {"width": 294, "height": 133, "title": {"text": "station: 8540433", "anchor": "end", "orient": "top", "offset": -26, "dx": -10, "fontSize": 10.7, "fontWeight": "normal", "color": "#000"},
   "layer": [
    {"data": {"name": "o8540433"}, "mark": {"type": "point"},
     "encoding": {"x": {"field": "h", "type": "quantitative", "scale": {"domain": [0, 144], "nice": false}, "axis": {"values": [0,24,48,72,96,120,144], "labelExpr": "'10/' + (25 + datum.value/24)", "title": "Date"}},
                  "y": {"field": "v", "type": "quantitative", "scale": {"domain": [-3, 6], "nice": false}, "axis": {"values": [-2,0,2,4,6], "title": "η ( m )"}}}},
    {"data": {"name": "m8540433"}, "mark": {"type": "line"},
     "encoding": {"x": {"field": "h", "type": "quantitative", "scale": {"domain": [0, 144], "nice": false}, "axis": {"values": [12,36,60,84,108,132], "labels": false, "domain": false, "title": null, "tickSize": -2.5, "orient": "bottom"}},
                  "y": {"field": "v", "type": "quantitative", "scale": {"domain": [-3, 6], "nice": false}, "axis": {"values": [-1,1,3,5], "labels": false, "domain": false, "title": null, "tickSize": -2.5, "orient": "left"}}}}
   ],
   "resolve": {"axis": {"x": "independent", "y": "independent"}}},
  {"width": 294, "height": 133, "title": {"text": "station: 8638863", "anchor": "end", "orient": "top", "offset": -26, "dx": -10, "fontSize": 10.7, "fontWeight": "normal", "color": "#000"},
   "layer": [
    {"data": {"name": "o8638863"}, "mark": {"type": "point"},
     "encoding": {"x": {"field": "h", "type": "quantitative", "scale": {"domain": [0, 144], "nice": false}, "axis": {"values": [0,24,48,72,96,120,144], "labelExpr": "'10/' + (25 + datum.value/24)", "title": "Date"}},
                  "y": {"field": "v", "type": "quantitative", "scale": {"domain": [-3, 6], "nice": false}, "axis": {"values": [-2,0,2,4,6], "title": "η ( m )"}}}},
    {"data": {"name": "m8638863"}, "mark": {"type": "line", "interpolate": "monotone"},
     "encoding": {"x": {"field": "h", "type": "quantitative", "scale": {"domain": [0, 144], "nice": false}, "axis": {"values": [12,36,60,84,108,132], "labels": false, "domain": false, "title": null, "tickSize": -2.5, "orient": "bottom"}},
                  "y": {"field": "v", "type": "quantitative", "scale": {"domain": [-3, 6], "nice": false}, "axis": {"values": [-1,1,3,5], "labels": false, "domain": false, "title": null, "tickSize": -2.5, "orient": "left"}}}}
   ],
   "resolve": {"axis": {"x": "independent", "y": "independent"}}}
]
}
